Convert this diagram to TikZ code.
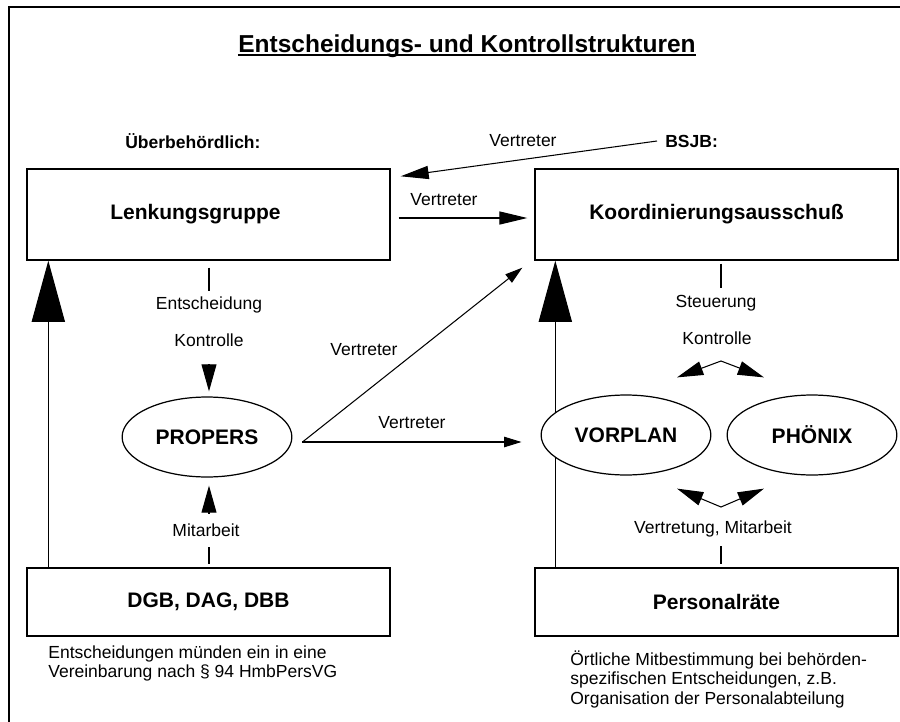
\documentclass[tikz,border=0pt]{standalone}
\usepackage{fontspec}
\setmainfont{Liberation Sans}
\usetikzlibrary{arrows.meta,calc,shapes.geometric}
\tikzset{
  box/.style    ={draw, line width=0.8pt, minimum width=207.4pt,
                  align=center, font=\fontsize{12}{14}\selectfont\bfseries},
  oval/.style   ={draw, ellipse, fill=white, line width=0.7pt,
                  minimum width=97pt, minimum height=45.7pt, inner sep=0pt,
                  font=\fontsize{12}{14}\selectfont\bfseries},
  lbl/.style    ={font=\fontsize{10}{12}\selectfont, inner sep=0pt},
  hdr/.style    ={font=\fontsize{10}{12}\selectfont\bfseries, inner sep=0pt,
                  anchor=west},
  note/.style   ={font=\fontsize{10}{11.4}\selectfont, align=left,
                  inner sep=0pt, anchor=north west},
  ln/.style     ={line width=0.6pt},
  bigar/.style  ={ln, -{Triangle[length=35pt,width=19pt]}},
  ar/.style     ={ln, -{Triangle[length=16pt,width=7.5pt]}},
  smallar/.style={ln, -{Triangle[length=10pt,width=6pt]}},
  tipar/.style  ={ln, -{Triangle[length=15.4pt,width=8.5pt]}},
  dblar/.style  ={ln, {Triangle[length=15pt,width=8pt]}-{Triangle[length=15pt,width=8pt]}}
}

\begin{document}
\begin{tikzpicture}[x=0.5714pt, y=-0.5714pt]
\useasboundingbox (0,0) rectangle (900,722);
% frame, cut off at the right and at the bottom
\draw[line width=1.1pt] (9,722) -- (9,7) -- (900,7);

\node[font=\fontsize{14}{17}\selectfont\bfseries, inner sep=0pt, anchor=base]
  (title) at (467,52) {Entscheidungs- und Kontrollstrukturen};
\draw[line width=1.1pt] ($(title.base west)+(0,3)$) -- ($(title.base east)+(0,3)$);

\node[hdr] (ueber) at (125,141) {Überbehördlich:};
\node[hdr] (bsjb) at (665,141) {BSJB:};

\node[box, minimum height=52pt] (lenk) at (208.5,214.5) {Lenkungsgruppe\hspace*{14.9pt}};
\node[box, minimum height=52pt] (koord) at (716.5,214.5) {Koordinierungsausschuß};
\node[box, minimum height=38.9pt] (dgb) at (208.5,602) {DGB, DAG, DBB};
\node[box, minimum height=38.9pt] (pers) at (716.5,602) {Personalräte};

% long arrows on the outer sides go in before the ovals
\draw[bigar] ($(dgb.north west)+(22,0)$) -- ($(lenk.south west)+(22,0)$);
\draw[bigar] ($(pers.north west)+(21,0)$) -- ($(koord.south west)+(21,0)$);

\node[oval] (propers) at (207,437) {PROPERS};
\node[oval] (vorplan) at (626,435) {VORPLAN};
\node[oval] (phoenix) at (812,435) {PHÖNIX};

% top: representatives
\coordinate (lenkin) at ($(lenk.north east)+(10,8)$);
\draw[ar] ($(bsjb.west)+(-8,0)$) -- (lenkin);
\node[lbl] (vtop) at (523,141) {Vertreter};
\draw[ar] ($(lenk.east)+(8,3.5)$) -- ($(koord.west)+(-7,3.5)$);
\node[lbl] (vmid) at (444,200) {Vertreter};

% left column
\draw[ln] ($(lenk.south)+(0.5,7)$) -- ($(lenk.south)+(0.5,30)$);
\node[lbl] (entsch) at (209,305) {Entscheidung};
\node[lbl] (kontr1) at (209,340) {Kontrolle};
\draw[tipar] ($(propers.north)+(2,-32)$) -- ($(propers.north)+(2,-5)$);
\draw[tipar] ($(propers.south)+(2,36)$) -- ($(propers.south)+(2,8)$);
\node[lbl] (mitarb) at (206,530) {Mitarbeit};
\draw[ln] ($(dgb.north)+(0.5,-20)$) -- ($(dgb.north)+(0.5,-3)$);
\node[note] (dgbnote) at (48,645)
  {Entscheidungen münden ein in eine\\Vereinbarung nach § 94 HmbPersVG};

% PROPERS sends representatives
\coordinate (propout) at ($(propers.east)+(10,5)$);
\draw[smallar] (propout) -- ($(koord.south west)+(-12,7)$);
\draw[smallar] (propout) -- ($(vorplan.west)+(-19,7)$);
\node[lbl] (vdiag) at (364,350) {Vertreter};
\node[lbl] (vlow) at (412,423) {Vertreter};

% right column
\draw[ln] ($(koord.south)+(4.5,3)$) -- ($(koord.south)+(4.5,27)$);
\node[lbl] (steuer) at (716,303) {Steuerung};
\node[lbl] (kontr2) at (717,338) {Kontrolle};
\coordinate (ctop) at (721,361);
\coordinate (cbot) at (721,507);
\draw[dblar] ($(vorplan.north)+(51,-17)$) -- (ctop) -- ($(phoenix.north)+(-48,-17)$);
\draw[dblar] ($(vorplan.south)+(51,13)$) -- (cbot) -- ($(phoenix.south)+(-48,13)$);
\node[lbl] (vertmit) at (713,529) {Vertretung, Mitarbeit};
\draw[ln] ($(pers.north)+(4.5,-21)$) -- ($(pers.north)+(4.5,-3)$);
\node[note] (persnote) at (570,650)
  {Örtliche Mitbestimmung bei behörden-\\spezifischen Entscheidungen, z.B.\\Organisation der Personalabteilung};
\end{tikzpicture}
\end{document}
